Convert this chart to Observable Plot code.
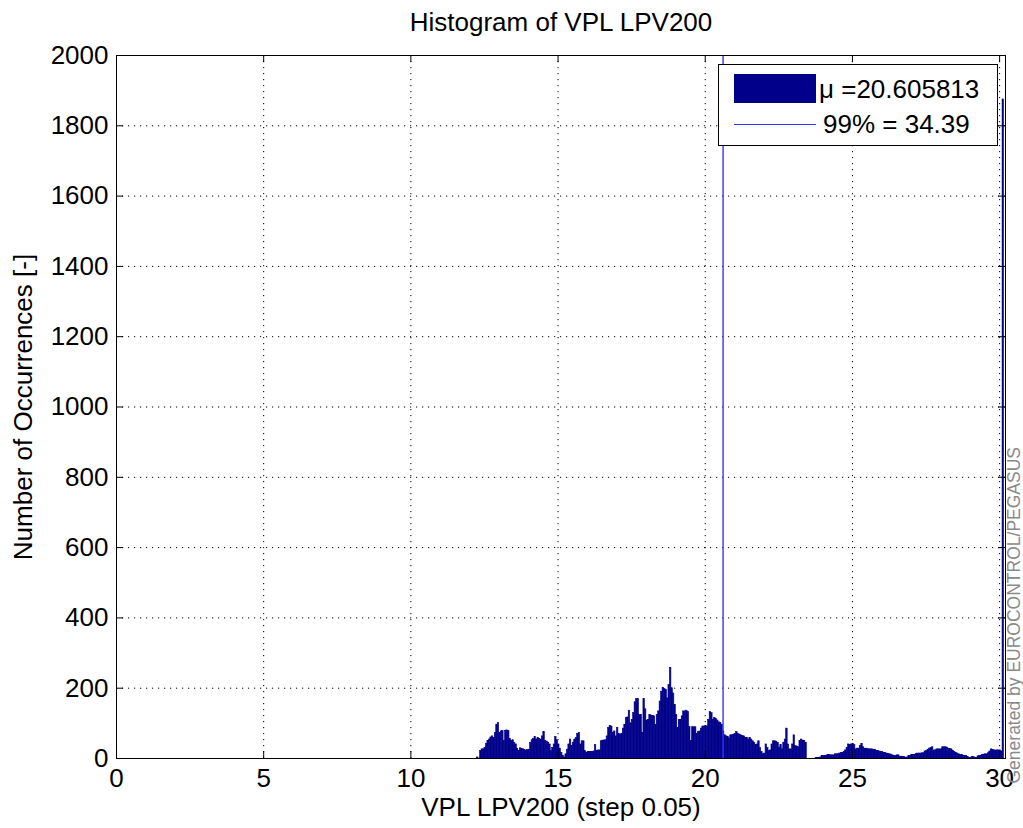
<!DOCTYPE html>
<html>
<head>
<meta charset="utf-8">
<script src="https://cdn.jsdelivr.net/npm/d3@7"></script>
<script src="https://cdn.jsdelivr.net/npm/@observablehq/plot@0.6"></script>
<style>
  html, body { margin: 0; padding: 0; background: #fff; }
  #wrap { position: relative; width: 1023px; height: 828px; font-family: "Liberation Sans", Arial, sans-serif; }
  #legend { position: absolute; left: 718px; top: 64px; width: 278px; height: 80px; border: 1px solid #000; background: #fff; }
  #legend .patch { position: absolute; left: 15px; top: 9px; width: 82px; height: 29px; }
  #legend .line { position: absolute; left: 15px; top: 59px; width: 82px; height: 0; border-top: 1.4px solid; }
  #legend .lab { position: absolute; font-size: 26px; line-height: 30px; color: #000; white-space: nowrap; }
</style>
</head>
<body>
<div id="wrap"><div id="chart"></div><div id="legend"></div></div>
<script>
// ---- data ----
const chartTitle = "Histogram of VPL LPV200";
const xLabel = "VPL LPV200 (step 0.05)";
const yLabel = "Number of Occurrences [-]";
const watermark = "Generated by EUROCONTROL/PEGASUS";

const xTicks = [0, 5, 10, 15, 20, 25, 30];
const yTicks = [0, 200, 400, 600, 800, 1000, 1200, 1400, 1600, 1800, 2000];
const xDomain = [0, 30.2];
const yDomain = [0, 2000];

const binWidth = 0.05;
const firstBinStart = 12.20;

// occurrences per 0.05 bin, from 12.20 upward
const countsA = [0, 3, 0]; // 12.20 – 12.30
const countsB = [ // 12.35 – 15.70
  21, 26, 26, 30, 42, 50, 54, 60, 63, 58,
  72, 95, 101, 73, 77, 78, 50, 79, 80, 78,
  55, 50, 52, 44, 40, 28, 22, 29, 27, 26,
  24, 21, 24, 25, 44, 52, 56, 61, 54, 58,
  56, 54, 63, 75, 50, 48, 45, 40, 21, 30,
  40, 61, 52, 40, 28, 16, 8, 3, 12, 25,
  40, 54, 35, 45, 54, 58, 70, 73];
const countsC = [ // 15.75 – 19.25
  40, 49, 49, 21, 16, 19, 19, 19, 19, 20,
  38, 21, 23, 23, 49, 51, 51, 52, 63, 87,
  92, 91, 73, 77, 63, 87, 70, 68, 70, 85,
  96, 115, 117, 136, 100, 110, 129, 160, 169, 169,
  124, 124, 73, 169, 140, 108, 110, 124, 122, 121,
  120, 96, 124, 134, 162, 190, 201, 198, 195, 171,
  209, 258, 200, 185, 152, 124, 87, 110, 110, 120,
  134];
const countsD = [ // 19.30 – 22.80
  134, 136, 132, 90, 50, 89, 89, 89, 70, 75,
  77, 85, 91, 91, 92, 91, 110, 132, 129, 110,
  115, 113, 108, 103, 101, 96, 77, 66, 63, 62,
  57, 66, 66, 68, 70, 75, 70, 68, 66, 64,
  63, 59, 59, 54, 59, 54, 49, 44, 38, 40,
  49, 30, 19, 12, 14, 40, 30, 21, 23, 40,
  49, 49, 48, 44, 30, 38, 26, 45, 54, 85,
  40];
const countsE = [ // 22.85 – 26.35
  26, 26, 40, 66, 35, 34, 32, 50, 54, 51,
  50, 45, 0, 0, 0, 0, 0, 0, 1, 2,
  2, 3, 7, 7, 7, 8, 10, 10, 9, 9,
  9, 12, 12, 12, 14, 16, 16, 18, 23, 30,
  40, 38, 40, 42, 38, 26, 28, 28, 35, 42,
  32, 28, 28, 27, 26, 26, 26, 25, 25, 22,
  21, 20, 19, 18, 16, 16, 14, 13, 12, 11,
  9];
const countsF = [ // 26.40 – 30.10 (last bin gathers all larger values)
  7, 7, 9, 9, 5, 5, 5, 4, 2, 3,
  7, 7, 10, 10, 10, 13, 14, 14, 14, 15,
  15, 20, 21, 25, 28, 30, 32, 23, 23, 26,
  26, 26, 26, 32, 32, 32, 31, 28, 27, 26,
  22, 19, 16, 14, 12, 10, 10, 8, 7, 7,
  4, 2, 2, 4, 4, 2, 2, 6, 7, 8,
  10, 11, 12, 12, 15, 20, 26, 24, 23, 23,
  23, 23, 23, 20, 1875];

const meanValue = 20.605813;
const p99Value = 34.39;

// ---- build ----
const counts = [...countsA, ...countsB, ...countsC, ...countsD, ...countsE, ...countsF];
const bins = counts.map((c, i) => ({
  x1: +(firstBinStart + i * binWidth).toFixed(2),
  x2: +(firstBinStart + (i + 1) * binWidth).toFixed(2),
  count: c
}));

const navy = "#00008b";
const meanColor = "#3535ff";
const W = 1023, H = 828, mL = 116, mR = 18, mT = 55, mB = 70;
const frameW = W - mL - mR, frameH = H - mT - mB, tickLen = 7;
const fmt = d => String(d);
const dotted = {stroke: "#000", strokeOpacity: 1, strokeWidth: 1, strokeDasharray: "1.2,4.8"};

const chart = Plot.plot({
  width: W, height: H,
  marginLeft: mL, marginRight: mR, marginTop: mT, marginBottom: mB,
  style: {fontFamily: "'Liberation Sans', Arial, sans-serif", fontSize: "26px", background: "#fff", color: "#000", overflow: "visible"},
  x: {domain: xDomain},
  y: {domain: yDomain},
  marks: [
    Plot.gridX(xTicks, dotted),
    Plot.gridY(yTicks, dotted),
    Plot.rectY(bins, {x1: "x1", x2: "x2", y: "count", fill: navy, stroke: navy, strokeWidth: 0.6}),
    Plot.ruleX([meanValue], {stroke: meanColor, strokeWidth: 1.4}),
    Plot.frame({stroke: "#000"}),
    Plot.tickX(xTicks, {insetTop: frameH - tickLen, stroke: "#000"}),
    Plot.tickX(xTicks, {insetBottom: frameH - tickLen, stroke: "#000"}),
    Plot.tickY(yTicks, {insetRight: frameW - tickLen, stroke: "#000"}),
    Plot.tickY(yTicks, {insetLeft: frameW - tickLen, stroke: "#000"}),
    Plot.axisX(xTicks, {tickSize: 0, tickPadding: 10, tickFormat: fmt, label: null, fontSize: 26}),
    Plot.axisY(yTicks, {tickSize: 0, tickPadding: 8, tickFormat: fmt, label: null, fontSize: 26}),
    Plot.text([chartTitle], {text: d => d, frameAnchor: "top", lineAnchor: "middle", textAnchor: "middle", dy: -33, fontSize: 26}),
    Plot.text([xLabel], {text: d => d, frameAnchor: "bottom", lineAnchor: "middle", textAnchor: "middle", dy: 49, fontSize: 26}),
    Plot.text([yLabel], {text: d => d, frameAnchor: "left", lineAnchor: "middle", textAnchor: "middle", dx: -93, rotate: -90, fontSize: 26}),
    Plot.text([watermark], {text: d => d, frameAnchor: "bottom-right", lineAnchor: "middle", textAnchor: "start", dx: 9, dy: 25, rotate: -90, fontSize: 17.5, fill: "#8a8a8a"})
  ]
});
document.getElementById("chart").appendChild(chart);

// legend
const legend = document.getElementById("legend");
legend.innerHTML =
  `<div class="patch" style="background:${navy}"></div>` +
  `<div class="lab" style="left:100px;top:9px">μ =${meanValue.toFixed(6)}</div>` +
  `<div class="line" style="border-color:${meanColor}"></div>` +
  `<div class="lab" style="left:104px;top:44px">99% = ${p99Value.toFixed(2)}</div>`;
</script>
</body>
</html>
